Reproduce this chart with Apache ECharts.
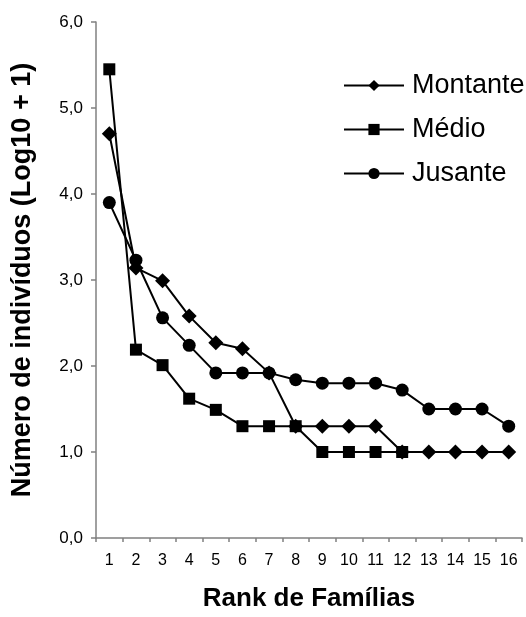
<!DOCTYPE html>
<html>
<head>
<meta charset="utf-8">
<script src="https://cdn.jsdelivr.net/npm/echarts@6/dist/echarts.min.js"></script>
<style>
html,body{margin:0;padding:0;background:#fff;}
#chart{width:526px;height:617px;}
</style>
</head>
<body>
<div id="chart"></div>
<script>
var categories = ['1','2','3','4','5','6','7','8','9','10','11','12','13','14','15','16'];
var montante = [4.70, 3.14, 2.99, 2.58, 2.27, 2.20, 1.92, 1.30, 1.30, 1.30, 1.30, 1.00, 1.00, 1.00, 1.00, 1.00];
var medio = [5.45, 2.19, 2.01, 1.62, 1.49, 1.30, 1.30, 1.30, 1.00, 1.00, 1.00, 1.00];
var jusante = [3.90, 3.23, 2.56, 2.24, 1.92, 1.92, 1.92, 1.84, 1.80, 1.80, 1.80, 1.72, 1.50, 1.50, 1.50, 1.30];
var seriesNames = ['Montante', 'Médio', 'Jusante'];
var xTitle = 'Rank de Famílias';
var yTitle = 'Número de indivíduos (Log10 + 1)';

var font = '"Liberation Sans", Arial, sans-serif';
var chart = echarts.init(document.getElementById('chart'), null, {renderer: 'canvas'});

function mkSeries(name, data, symbol, size) {
  return {
    name: name,
    type: 'line',
    data: data,
    symbol: symbol,
    symbolSize: size,
    showAllSymbol: true,
    animation: false,
    lineStyle: {color: '#000', width: 2},
    itemStyle: {color: '#000', borderWidth: 0}
  };
}

chart.setOption({
  backgroundColor: '#fff',
  animation: false,
  grid: {left: 96, right: 4, top: 22, bottom: 73, containLabel: false},
  legend: {
    orient: 'vertical',
    left: 338,
    top: 67,
    itemWidth: 60,
    itemHeight: 14,
    itemGap: 17,
    data: seriesNames,
    textStyle: {fontFamily: font, fontSize: 27, color: '#000', padding: [0,0,0,3]}
  },
  xAxis: {
    type: 'category',
    data: categories,
    boundaryGap: true,
    name: xTitle,
    nameLocation: 'middle',
    nameGap: 48,
    nameTextStyle: {fontFamily: font, fontSize: 26, fontWeight: 'bold', color: '#000'},
    axisLine: {lineStyle: {color: '#808080', width: 1.5}},
    axisTick: {show: true, length: 4, lineStyle: {color: '#808080', width: 1.5}},
    axisLabel: {fontFamily: font, fontSize: 16, color: '#000', margin: 15},
    splitLine: {show: false}
  },
  yAxis: {
    type: 'value',
    min: 0,
    max: 6,
    interval: 1,
    name: yTitle,
    nameLocation: 'middle',
    nameRotate: 90,
    nameGap: 60,
    nameTextStyle: {fontFamily: font, fontSize: 27, fontWeight: 'bold', color: '#000'},
    axisLine: {show: true, lineStyle: {color: '#808080', width: 1.5}},
    axisTick: {show: true, length: 5, lineStyle: {color: '#808080', width: 1.5}},
    axisLabel: {
      fontFamily: font, fontSize: 17, color: '#000', margin: 13,
      formatter: function (v) { return v.toFixed(1).replace('.', ','); }
    },
    splitLine: {show: false}
  },
  series: [
    mkSeries(seriesNames[0], montante, 'diamond', 15),
    mkSeries(seriesNames[1], medio, 'rect', 12),
    mkSeries(seriesNames[2], jusante, 'circle', 13)
  ]
});
</script>
</body>
</html>
